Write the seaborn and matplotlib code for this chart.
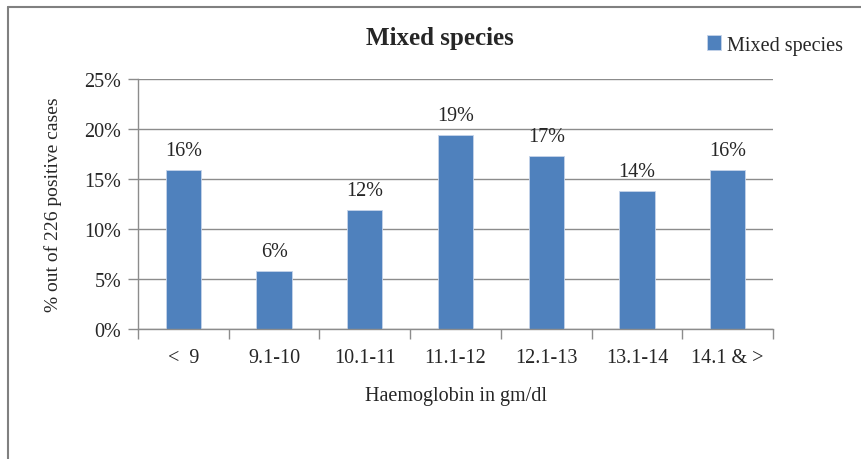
import pandas as pd
import seaborn as sns
import matplotlib.pyplot as plt
from matplotlib.lines import Line2D

# Chart data
categories = ["<  9", "9.1-10", "10.1-11", "11.1-12", "12.1-13", "13.1-14", "14.1 & >"]
percent = [15.9, 5.8, 11.9, 19.4, 17.3, 13.8, 15.9]
series_name = "Mixed species"

df = pd.DataFrame({"group": categories, "pct": percent, "series": series_name})

sns.set_style("white")
plt.rcParams["font.family"] = ["Liberation Serif", "DejaVu Serif"]

fig = plt.figure(figsize=(8.61, 4.60), dpi=100)
ax = fig.add_axes([0.1603, 0.2826, 0.7375, 0.5434])

sns.barplot(data=df, x="group", y="pct", hue="series", palette=["#4F81BD"],
            saturation=1, width=0.39, edgecolor="#c6d4ea", linewidth=0.6, ax=ax)

ax.set_ylim(0, 25)
ax.set_xlim(-0.5, len(categories) - 0.5)
ax.set_yticks(range(0, 26, 5))
ax.set_yticklabels([f"{v}%" for v in range(0, 26, 5)], fontsize=14.5)
ax.set_xticklabels(categories, fontsize=14.5)
ax.yaxis.grid(True, color="#8c8c8c", linewidth=1)
ax.set_axisbelow(True)

# tick marks: y outward, x at category boundaries
ax.tick_params(axis="y", length=7, width=1, color="#8c8c8c", direction="out", left=True, pad=5)
ax.tick_params(axis="x", which="major", length=0, pad=14)
ax.set_xticks([i + 0.5 for i in range(-1, len(categories))], minor=True)
ax.tick_params(axis="x", which="minor", length=7, width=1, color="#8c8c8c", direction="out", bottom=True)

for side in ["top", "right"]:
    ax.spines[side].set_visible(False)
for side in ["left", "bottom"]:
    ax.spines[side].set_color("#8c8c8c")
    ax.spines[side].set_linewidth(1)

# value labels
for i, v in enumerate(percent):
    ax.text(i, v + 1.0, f"{round(v)}%", ha="center", va="bottom", fontsize=14.5)

ax.set_xlabel("Haemoglobin in gm/dl", fontsize=14.5, labelpad=13)
ax.set_ylabel("% out of 226 positive cases", fontsize=14, labelpad=16)

fig.text(0.511, 0.917, "Mixed species", ha="center", va="center",
         fontsize=18, fontweight="bold")

ax.legend(loc="center left", bbox_to_anchor=(707 / 861, 1 - 46 / 460),
          bbox_transform=fig.transFigure, frameon=False,
          fontsize=14.5, handlelength=0.7, handleheight=0.7, handletextpad=0.3,
          borderaxespad=0, borderpad=0)

# outer frame (top and left edges)
fig.add_artist(Line2D([8 / 861, 8 / 861], [0, 1 - 8 / 460], transform=fig.transFigure,
                      color="#808080", linewidth=1.5))
fig.add_artist(Line2D([8 / 861, 1], [1 - 8 / 460, 1 - 8 / 460], transform=fig.transFigure,
                      color="#808080", linewidth=1.5))

fig.savefig("out.png", dpi=100)
